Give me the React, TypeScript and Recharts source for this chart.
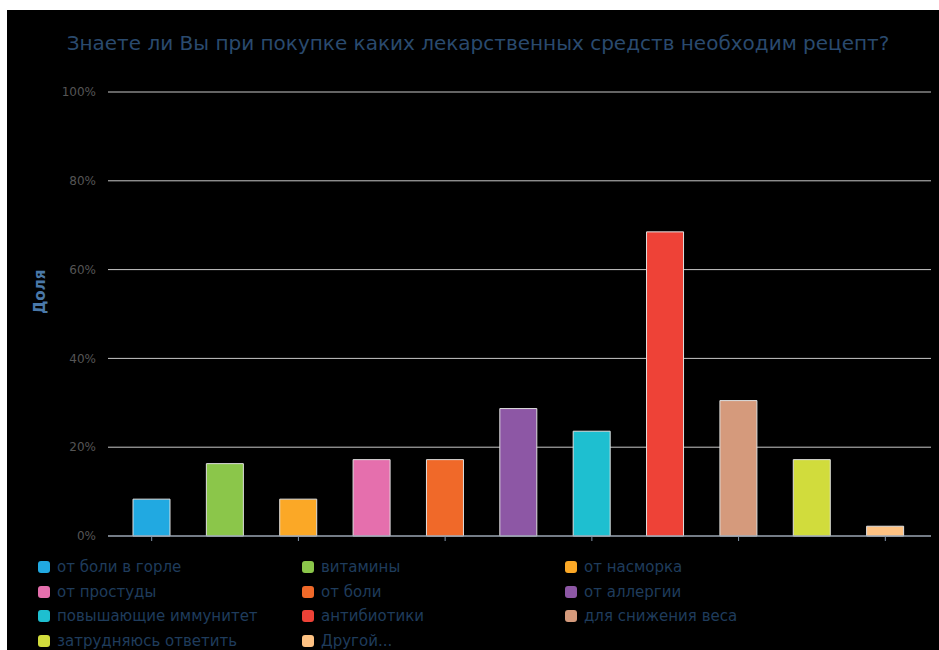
import { BarChart, Bar, XAxis, YAxis, CartesianGrid, Cell } from 'recharts';

const categories = [
  'от боли в горле',
  'витамины',
  'от насморка',
  'от простуды',
  'от боли',
  'от аллергии',
  'повышающие иммунитет',
  'антибиотики',
  'для снижения веса',
  'затрудняюсь ответить',
  'Другой...',
];
const shares = [8.3, 16.3, 8.3, 17.2, 17.2, 28.7, 23.6, 68.5, 30.5, 17.2, 2.2];
const colors = [
  '#21a9e1', '#8bc64a', '#fba826', '#e56fad', '#f06929', '#8d57a5',
  '#1ebfd0', '#ee4237', '#d59a7c', '#d1dc3c', '#fec283',
];
const yTicks = [0, 20, 40, 60, 80, 100];

const data = categories.map((name, i) => ({ name, value: shares[i] }));

export default function App() {
  return (
    <div style={{ position: 'absolute', left: 7, top: 10, width: 932, height: 640, background: '#000', fontFamily: 'DejaVu Sans' }}>
      <div style={{ position: 'absolute', left: 0, top: 21, width: 942, textAlign: 'center', fontSize: 20, color: '#2a4a6e' }}>
        Знаете ли Вы при покупке каких лекарственных средств необходим рецепт?
      </div>
      <BarChart width={932} height={640} data={data} margin={{ top: 82, right: 8, bottom: 104, left: 0 }}>
        <CartesianGrid vertical={false} stroke="#c8c8c8" strokeWidth={1} />
        <XAxis
          dataKey="name"
          interval={1}
          tick={() => <g />}
          tickLine={{ stroke: '#8494a8' }}
          tickSize={5}
          height={10}
          padding={{ left: 7, right: 9 }}
          stroke="#8494a8"
        />
        <YAxis
          width={101}
          domain={[0, 100]}
          ticks={yTicks}
          tickFormatter={(v) => `${v}%`}
          axisLine={false}
          tickLine={false}
          tickSize={6}
          tickMargin={6}
          tick={{ fill: '#555', fontSize: 12 }}
          label={{ value: 'Доля', angle: -90, position: 'insideLeft', offset: 33, fill: '#4a78a8', fontWeight: 'bold', fontSize: 15 }}
        />
        <Bar dataKey="value" barSize={37} stroke="#e0e0e0" strokeWidth={1} isAnimationActive={false}>
          {data.map((d, i) => (
            <Cell key={d.name} fill={colors[i]} />
          ))}
        </Bar>
      </BarChart>
      <div style={{ position: 'absolute', left: 31, top: 548, display: 'grid', gridTemplateColumns: '264px 263px 300px', rowGap: 6.5, fontSize: 15, color: '#1f3c5c' }}>
        {categories.map((c, i) => (
          <div key={c} style={{ display: 'flex', alignItems: 'center', height: 18 }}>
            <span style={{ width: 12, height: 12, borderRadius: 3, background: colors[i], marginRight: 7, display: 'inline-block' }} />
            {c}
          </div>
        ))}
      </div>
    </div>
  );
}
